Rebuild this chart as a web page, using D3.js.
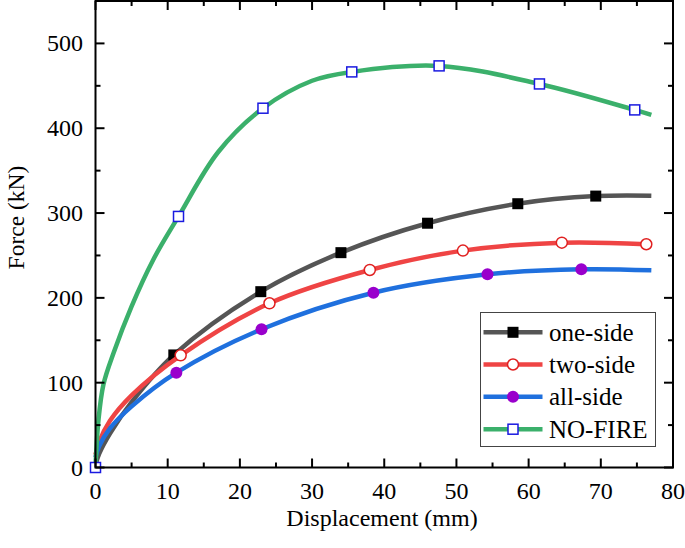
<!DOCTYPE html>
<html><head><meta charset="utf-8">
<script src="https://cdn.jsdelivr.net/npm/d3@7"></script>
<style>body{margin:0;background:#fff} svg text{font-family:"Liberation Serif","DejaVu Serif","Noto Serif",serif;}</style>
</head><body>
<svg id="c" width="685" height="548"></svg>
<script>
// ---- data ----
const seriesNames = ["one-side", "two-side", "all-side", "NO-FIRE"];
const xTicks = [0,10,20,30,40,50,60,70,80];
const yTicks = [0,100,200,300,400,500];

const oneSideLine = [[0,3],[0.5,16],[2,40],[5,77],[10.85,132.7],[22.9,207.3],[34,253.3],[46,288],[58.5,311],[69.3,320],[77,320.5]];
const oneSideMarks = [[10.85,132.7],[22.9,207.3],[34,253.3],[46,288],[58.5,311],[69.3,320]];

const twoSideLine = [[0,15],[0.5,30],[2,55],[5,85],[11.8,132.3],[24.1,193.6],[38,232.9],[50.9,255.7],[64.6,265.1],[76.3,263.2]];
const twoSideMarks = [[11.8,132.3],[24.1,193.6],[38,232.9],[50.9,255.7],[64.6,265.1],[76.3,263.2]];

const allSideLine = [[0,12],[0.5,25],[2,46],[5,72],[11.2,111.8],[23,163],[38.5,206.1],[54.3,227.8],[67.3,233.7],[77,232.5]];
const allSideMarks = [[11.2,111.8],[23,163],[38.5,206.1],[54.3,227.8],[67.3,233.7]];

const noFireLine = [[0,0],[0.4,55],[1.1,98],[2.5,135],[5,190],[8,245],[11.5,296],[17,372],[23.2,423.6],[30,456],[35.5,466.4],[47.6,473.5],[61.5,452.2],[74.7,421.6],[77,415.7]];
const noFireMarks = [[0,0],[11.5,296],[23.2,423.6],[35.5,466.4],[47.6,473.5],[61.5,452.2],[74.7,421.6]];

// ---- layout ----
const svg = d3.select("#c");
const L = 95.5, R = 673, T = 1, B = 467.5;
const x = d3.scaleLinear().domain([0,80]).range([L,R]);
const y = d3.scaleLinear().domain([0,550]).range([B,T]);

const series = [
  {name: seriesNames[0], line: oneSideLine, marks: oneSideMarks, color:"#555555", shape:"square", fill:"#000", stroke:"#000"},
  {name: seriesNames[1], line: twoSideLine, marks: twoSideMarks, color:"#EF4444", shape:"circle", fill:"#fff", stroke:"#E02020"},
  {name: seriesNames[2], line: allSideLine, marks: allSideMarks, color:"#1F70DE", shape:"circle", fill:"#9900CC", stroke:"#9900CC"},
  {name: seriesNames[3], line: noFireLine, marks: noFireMarks, color:"#3BB06B", shape:"square", fill:"#fff", stroke:"#1A1AE0"}
];

const line = d3.line().x(d=>x(d[0])).y(d=>y(d[1])).curve(d3.curveCatmullRom.alpha(0.5));

function drawMarker(g, cx, cy, s) {
  if (s.shape === "square") {
    const size = s.fill === "#000" ? 11 : 10;
    g.append("rect").attr("x", cx-size/2).attr("y", cy-size/2).attr("width", size).attr("height", size)
      .attr("fill", s.fill).attr("stroke", s.stroke).attr("stroke-width", s.fill === "#000" ? 0 : 1.5);
  } else {
    g.append("circle").attr("cx", cx).attr("cy", cy).attr("r", s.fill === "#fff" ? 5.5 : 6)
      .attr("fill", s.fill).attr("stroke", s.stroke).attr("stroke-width", s.fill === "#fff" ? 1.5 : 0);
  }
}

const plot = svg.append("g");
series.forEach(s => {
  plot.append("path").datum(s.line).attr("d", line).attr("fill","none")
    .attr("stroke", s.color).attr("stroke-width", 4.5).attr("stroke-linecap","butt");
  const mg = plot.append("g");
  s.marks.forEach(d => drawMarker(mg, x(d[0]), y(d[1]), s));
});

// ---- axes (ticks inward on all four sides) ----
const xMinor = d3.range(5, 80, 10);
const yMinor = d3.range(50, 550, 100);
const ax = svg.append("g").attr("stroke","#000").attr("stroke-width",2);
xTicks.forEach(v => {
  ax.append("line").attr("x1",x(v)).attr("x2",x(v)).attr("y1",B).attr("y2",B-9);
  ax.append("line").attr("x1",x(v)).attr("x2",x(v)).attr("y1",T).attr("y2",T+9);
});
xMinor.forEach(v => {
  ax.append("line").attr("x1",x(v)).attr("x2",x(v)).attr("y1",B).attr("y2",B-5);
  ax.append("line").attr("x1",x(v)).attr("x2",x(v)).attr("y1",T).attr("y2",T+5);
});
yTicks.forEach(v => {
  ax.append("line").attr("y1",y(v)).attr("y2",y(v)).attr("x1",L).attr("x2",L+9);
  ax.append("line").attr("y1",y(v)).attr("y2",y(v)).attr("x1",R).attr("x2",R-9);
});
yMinor.forEach(v => {
  ax.append("line").attr("y1",y(v)).attr("y2",y(v)).attr("x1",L).attr("x2",L+5);
  ax.append("line").attr("y1",y(v)).attr("y2",y(v)).attr("x1",R).attr("x2",R-5);
});
ax.append("rect").attr("x",L).attr("y",T).attr("width",R-L).attr("height",B-T).attr("fill","none");

svg.append("g").selectAll("text").data(xTicks).join("text")
  .attr("x", d=>x(d)).attr("y", 499).attr("text-anchor","middle")
  .attr("font-size", 24).text(d=>d);
svg.append("g").selectAll("text").data(yTicks).join("text")
  .attr("x", 83).attr("y", d=>y(d)+8).attr("text-anchor","end")
  .attr("font-size", 24).text(d=>d);

svg.append("text").attr("x", 382).attr("y", 526).attr("text-anchor","middle")
  .attr("font-size", 24).text("Displacement (mm)");
svg.append("text").attr("transform","translate(24,217.5) rotate(-90)").attr("text-anchor","middle")
  .attr("font-size", 23.5).text("Force (kN)");

// ---- legend ----
const lg = svg.append("g");
lg.append("rect").attr("x",480.5).attr("y",312.5).attr("width",175).attr("height",134)
  .attr("fill","#fff").attr("stroke","#444").attr("stroke-width",1);
const rowY = [332.3, 364.5, 396.8, 429.2];
series.forEach((s,i) => {
  const ry = rowY[i];
  lg.append("line").attr("x1",483.5).attr("x2",542.5).attr("y1",ry).attr("y2",ry)
    .attr("stroke", s.color).attr("stroke-width",4.5);
  drawMarker(lg, 513, ry, s);
  lg.append("text").attr("x",549).attr("y",ry+8.5).attr("font-size",25).text(s.name);
});
</script>
</body></html>
